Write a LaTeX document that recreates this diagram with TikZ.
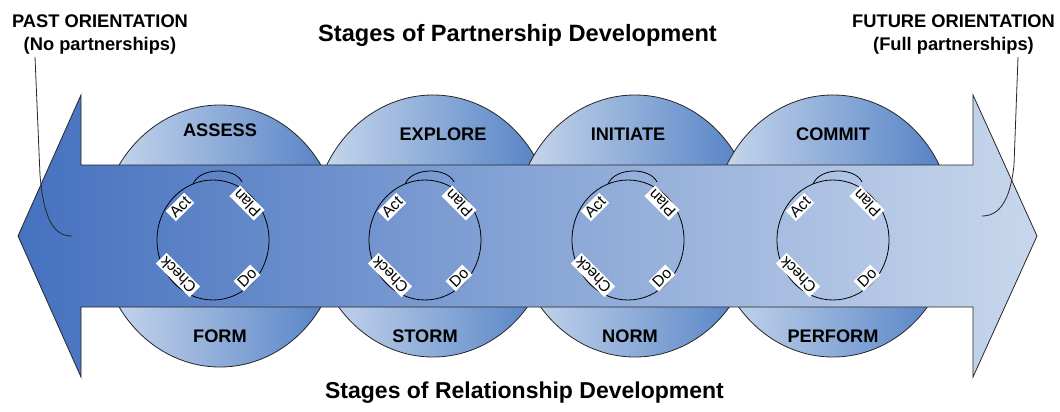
\documentclass[tikz,border=0pt]{standalone}
\usepackage{fontspec}
\setmainfont{Liberation Sans}

\definecolor{flowdark}{HTML}{4571BF}
\definecolor{flowlight}{HTML}{C8D7EC}
\definecolor{bubblelight}{HTML}{CCDAEE}
\definecolor{bubbledark}{HTML}{4F7EC3}

\tikzset{
  bubble/.style={draw=black!85, line width=0.8pt, left color=bubblelight, right color=bubbledark},
  stagelabel/.style={font=\fontsize{18.2}{20}\selectfont\bfseries},
  cyclelabel/.style={fill=white, inner sep=1.8pt, font=\fontsize{15.5}{16}\selectfont},
  cycleline/.style={draw=black, line width=0.8pt},
  leader/.style={draw=black!85, line width=0.8pt}
}

\begin{document}
\begin{tikzpicture}[x=1pt, y=-1pt]
  \useasboundingbox (0,0) rectangle (1060,412);

  % Stage bubbles
  \foreach \cx/\cy in {220/236, 433/226, 635/226, 833/226}
    \path[bubble] (\cx,\cy) ellipse [x radius=120, y radius=131];

  % Double arrow (past <-> future)
  \draw[line width=0.8pt, draw=black!85, left color=flowdark, right color=flowlight]
    (81,165) -- (81,95) -- (18,236) -- (81,377) -- (81,307) -- (973,307)
    -- (973,377) -- (1037,236) -- (973,95) -- (973,165) -- cycle;

  % Partnership stages (top)
  \node[stagelabel] (assess) at (220,130) {ASSESS};
  \node[stagelabel] (explore) at (443,134) {EXPLORE};
  \node[stagelabel] (initiate) at (628,134) {INITIATE};
  \node[stagelabel] (commit) at (833,134) {COMMIT};

  % Relationship stages (bottom)
  \node[stagelabel] (form) at (220,336) {FORM};
  \node[stagelabel] (storm) at (425,336) {STORM};
  \node[stagelabel] (norm) at (630,336) {NORM};
  \node[stagelabel] (perform) at (833,336) {PERFORM};

  % PDCA cycles
  \foreach \px [count=\i] in {213,425,628,833} {
    \draw[cycleline] (\px,240) ellipse [x radius=56, y radius=60];
    \draw[cycleline] (\px-20,184) .. controls (\px-13,167) and (\px+22,167) .. (\px+29,182);
    \node[cyclelabel, rotate=45] (act\i) at (\px-33,207) {Act};
    \node[cyclelabel, rotate=135] (plan\i) at (\px+34,203) {Plan};
    \node[cyclelabel, rotate=45] (do\i) at (\px+34,278) {Do};
    \node[cyclelabel, rotate=135] (check\i) at (\px-35,275) {Check};
  }

  % Titles
  \node[font=\fontsize{23.6}{26}\selectfont\bfseries, anchor=base] (toptitle) at (517.5,41.7)
    {Stages of Partnership Development};
  \node[font=\fontsize{23}{26}\selectfont\bfseries, anchor=base] (bottomtitle) at (524.5,398)
    {Stages of Relationship Development};

  % Orientation callouts
  \node[font=\fontsize{18.3}{23}\selectfont\bfseries, align=center] (past) at (100,35)
    {PAST ORIENTATION\\(No partnerships)};
  \node[font=\fontsize{18.3}{23}\selectfont\bfseries, align=center] (future) at (953.5,35)
    {FUTURE ORIENTATION\\(Full partnerships)};

  \coordinate (pastfoot) at (35,57);
  \coordinate (pastend) at (72,236);
  \coordinate (futurefoot) at (1018,57);
  \coordinate (futureend) at (982,216);
  \draw[leader] (pastfoot) -- (40,175) .. controls (44,222) and (55,236) .. (pastend);
  \draw[leader] (futurefoot) -- (1014,165) .. controls (1010,203) and (998,216) .. (futureend);
\end{tikzpicture}
\end{document}
